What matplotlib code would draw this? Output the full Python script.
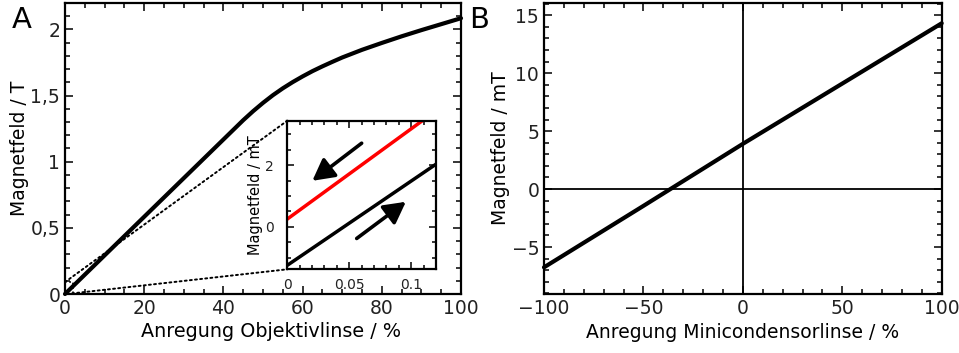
import numpy as np
import matplotlib
matplotlib.use("Agg")
import matplotlib.pyplot as plt
from matplotlib.ticker import MultipleLocator, FuncFormatter
from matplotlib.patches import Rectangle, ConnectionPatch

plt.rcParams['font.family'] = ['DejaVu Sans']

# Objektivlinse: Anregung in %, Magnetfeld in T
obj_x = [0, 10, 20, 30, 40, 45, 47.5, 50, 52.5, 55, 57.5, 60, 62.5, 65,
         67.5, 70, 75, 80, 85, 90, 95, 100]
obj_b = [0, 0.292, 0.584, 0.876, 1.168, 1.314, 1.382, 1.445, 1.503, 1.555,
         1.602, 1.645, 1.685, 1.721, 1.755, 1.788, 1.846, 1.898, 1.948,
         1.995, 2.04, 2.085]

# Remanenz bei kleiner Anregung (Inset): Anregung in %, Magnetfeld in mT
up_x = [0, 0.12]
up_b = [-1.25, 2.03]
down_x = [0, 0.11]
down_b = [0.25, 3.47]

# Minicondensorlinse: Anregung in %, Magnetfeld in mT
mini_x = [-100, -50, 0, 50, 100]
mini_b = [-6.75, -1.45, 3.9, 9.1, 14.3]

FS = 13.5
TICKC = '#222222'


def style_axes(ax, fs=FS, major=6, minor=3.5):
    ax.tick_params(which='both', direction='in', top=True, right=True,
                   width=1.1, labelsize=fs, labelcolor=TICKC)
    ax.tick_params(which='major', length=major)
    ax.tick_params(which='minor', length=minor)
    for s in ax.spines.values():
        s.set_linewidth(1.6)


def comma(v, pos):
    return ('%g' % v).replace('.', ',')


fig = plt.figure(figsize=(9.59, 3.53), dpi=100)

# --- Panel A ---
ax1 = fig.add_axes([65 / 959, 59 / 353, 396 / 959, 291 / 353])
ax1.plot(obj_x, obj_b, color='k', lw=3, solid_capstyle='round',
         solid_joinstyle='round', clip_on=False, zorder=3)
ax1.set_xlim(0, 100)
ax1.set_ylim(0, 2.2)
ax1.xaxis.set_major_locator(MultipleLocator(20))
ax1.xaxis.set_minor_locator(MultipleLocator(5))
ax1.yaxis.set_major_locator(MultipleLocator(0.5))
ax1.yaxis.set_minor_locator(MultipleLocator(0.1))
ax1.yaxis.set_major_formatter(FuncFormatter(comma))
style_axes(ax1)
ax1.set_xlabel('Anregung Objektivlinse / %', fontsize=13.8, labelpad=4)
ax1.xaxis.set_label_coords(0.52, -0.095)
ax1.set_ylabel('Magnetfeld / T', fontsize=FS, labelpad=1)

# Zoom-Bereich markieren
ax1.add_patch(Rectangle((0, 0), 2, 0.09, fill=False, ls=':', lw=1.2, color='k'))

ins = fig.add_axes([287.3 / 959, 83.7 / 353, 148.7 / 959, 148.6 / 353])
ins.plot(up_x, up_b, color='k', lw=2.5)
ins.plot(down_x, down_b, color='red', lw=2.5)
ins.set_xlim(0, 0.12)
ins.set_ylim(-1.38, 3.44)
ins.xaxis.set_major_locator(MultipleLocator(0.05))
ins.xaxis.set_minor_locator(MultipleLocator(0.01))
ins.yaxis.set_major_locator(MultipleLocator(2))
ins.yaxis.set_minor_locator(MultipleLocator(0.5))
ins.xaxis.set_major_formatter(FuncFormatter(lambda v, p: '%g' % v))
ins.yaxis.set_major_formatter(FuncFormatter(lambda v, p: '%g' % v))
style_axes(ins, fs=10, major=5, minor=3)
ins.tick_params(axis='x', pad=6)
ins.tick_params(axis='y', pad=10)
ins.set_ylabel('Magnetfeld / mT', fontsize=10.5, labelpad=1)

arrow = dict(arrowstyle='-|>,head_length=0.65,head_width=0.35', color='k',
             lw=2.6, mutation_scale=20, shrinkA=0, shrinkB=0)
ins.annotate('', xy=(0.0202, 1.49), xytext=(0.06, 2.71), arrowprops=arrow)
ins.annotate('', xy=(0.0957, 0.81), xytext=(0.056, -0.38), arrowprops=arrow)

for xa, ya, xb, yb in [(0, 0.09, 0, 1), (0.5, 0, 0, 0)]:
    con = ConnectionPatch(xyA=(xa, ya), coordsA=ax1.transData,
                          xyB=(xb, yb), coordsB=ins.transAxes,
                          ls=':', lw=1.4, color='k', zorder=1)
    fig.add_artist(con)

# --- Panel B ---
ax2 = fig.add_axes([544 / 959, 59 / 353, 397.7 / 959, 291 / 353])
ax2.axhline(0, color='k', lw=1.3, zorder=1)
ax2.axvline(0, color='k', lw=1.3, zorder=1)
ax2.plot(mini_x, mini_b, color='k', lw=3, solid_capstyle='round', clip_on=False, zorder=3)
ax2.set_xlim(-100, 100)
ax2.set_ylim(-9.05, 16.05)
ax2.xaxis.set_major_locator(MultipleLocator(50))
ax2.xaxis.set_minor_locator(MultipleLocator(10))
ax2.yaxis.set_major_locator(MultipleLocator(5))
ax2.yaxis.set_minor_locator(MultipleLocator(1))
style_axes(ax2)
ax2.set_xlabel('Anregung Minicondensorlinse / %', fontsize=FS, labelpad=4)
ax2.set_ylabel('Magnetfeld / mT', fontsize=FS, labelpad=1)

fig.text(12 / 959, 1 - 28 / 353, 'A', fontsize=21)
fig.text(469 / 959, 1 - 28 / 353, 'B', fontsize=21)

fig.savefig('out.png', dpi=100)
